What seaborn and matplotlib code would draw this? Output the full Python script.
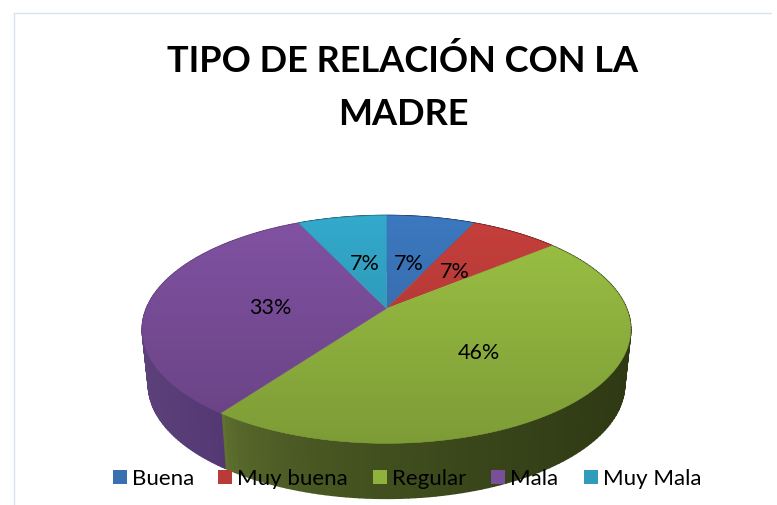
import numpy as np
import matplotlib.pyplot as plt
import matplotlib.colors as mcolors
import seaborn as sns
from matplotlib.patches import Polygon, Rectangle
from matplotlib.collections import PolyCollection

sns.set_theme(style="white")
plt.rcParams['font.family'] = ['Lato', 'DejaVu Sans']

categories = ['Buena', 'Muy buena', 'Regular', 'Mala', 'Muy Mala']
values = [7, 7, 46, 33, 7]
labels = ['7%', '7%', '46%', '33%', '7%']
colors = ['#3c78bf', '#c63f3c', '#9cc244', '#8152a2', '#33a9cb']
legend_colors = ['#3a6fb0', '#b93b39', '#8fb23e', '#7a4f9a', '#2f9cbc']
side_left = ['#1f3d66', '#6b2422', '#607230', '#5c4079', '#1b5d70']
side_right = ['#1f3d66', '#6b2422', '#2f3a14', '#533874', '#1b5d70']

W, H = 777, 506
fig = plt.figure(figsize=(W / 100, H / 100), dpi=100)
ax = fig.add_axes([0, 0, 1, 1])


# perspective view of the unit circle, k makes the far side shorter
def project(x, y, scale=1.0, dy=0.0, k=0.184):
    w = 1 + k * y
    return 386.5 + 240 * scale * x / w, 309.5 - 110 * y / w + dy


wedges, _ = ax.pie(values, colors=colors, startangle=90, counterclock=False)
ax.set_aspect('auto')
ax.set_xlim(0, W)
ax.set_ylim(H, 0)
ax.axis('off')

for i, wd in enumerate(wedges):
    wd.set_visible(False)
    th = np.radians(np.linspace(wd.theta1, wd.theta2, 120))
    cx, cy = np.cos(th), np.sin(th)

    # side wall
    x0, y0 = project(cx, cy)
    x1, y1 = project(cx, cy, scale=0.975, dy=55)
    quads = [[(x0[j], y0[j]), (x0[j + 1], y0[j + 1]), (x1[j + 1], y1[j + 1]), (x1[j], y1[j])]
             for j in range(len(th) - 1)]
    t = np.clip((x0[:-1] - 222) / 408, 0, 1) ** 0.5
    if i == 3:
        t = np.clip((x0[:-1] - 143) / 79, 0, 1)
    c0 = np.array(mcolors.to_rgb(side_left[i]))
    c1 = np.array(mcolors.to_rgb(side_right[i]))
    side = [c0 + (c1 - c0) * v for v in t]
    ax.add_collection(PolyCollection(quads, facecolors=side, edgecolors=side, linewidths=1.2, zorder=1))

for wd, c in zip(wedges, colors):
    th = np.radians(np.linspace(wd.theta1, wd.theta2, 120))
    xs = np.r_[0, np.cos(th)]
    ys = np.r_[0, np.sin(th)]
    px, py = project(xs, ys)
    ax.add_patch(Polygon(np.c_[px, py], closed=True, facecolor=c, edgecolor=c, linewidth=0.3, zorder=2))

# top face gets darker towards the viewer
th = np.linspace(0, 2 * np.pi, 400)
rx, ry = project(np.cos(th), np.sin(th))
shade = np.zeros((100, 2, 4))
shade[:, :, 3] = np.linspace(0, 0.2, 100)[:, None]
im = ax.imshow(shade, extent=(140, 632, 447, 215), aspect='auto', zorder=3, interpolation='bilinear')
clip = Polygon(np.c_[rx, ry], closed=True, transform=ax.transData, facecolor='none', edgecolor='none')
ax.add_patch(clip)
im.set_clip_path(clip)
ax.set_xlim(0, W)
ax.set_ylim(H, 0)

label_px = [(409, 264), (455, 272), (479, 353), (270, 308), (365, 264)]
for (px, py), t in zip(label_px, labels):
    ax.text(px, py, t, ha='center', va='center', fontsize=15.5, color='black', zorder=5)

ax.text(403, 61, 'TIPO DE RELACIÓN CON LA', ha='center', va='center',
        fontsize=26, fontweight='bold', color='black', zorder=5)
ax.text(403, 114, 'MADRE', ha='center', va='center',
        fontsize=26, fontweight='bold', color='black', zorder=5)

# legend placed by hand, it sits over the pie
legend_x = [113, 218, 373, 491, 584]
for x, c, n in zip(legend_x, legend_colors, categories):
    ax.add_patch(Rectangle((x, 471), 14, 14, facecolor=c, edgecolor='none', zorder=5))
    ax.text(x + 19, 479, n, ha='left', va='center', fontsize=16, color='black', zorder=5)

# chart frame, top and left only show in the screenshot
ax.plot([14, 14], [14, 506], color='#d9e2ea', lw=1, zorder=0)
ax.plot([14, 771], [14, 14], color='#d9e2ea', lw=1, zorder=0)
ax.set_xlim(0, W)
ax.set_ylim(H, 0)

fig.savefig('out.png', dpi=100, facecolor='white')
